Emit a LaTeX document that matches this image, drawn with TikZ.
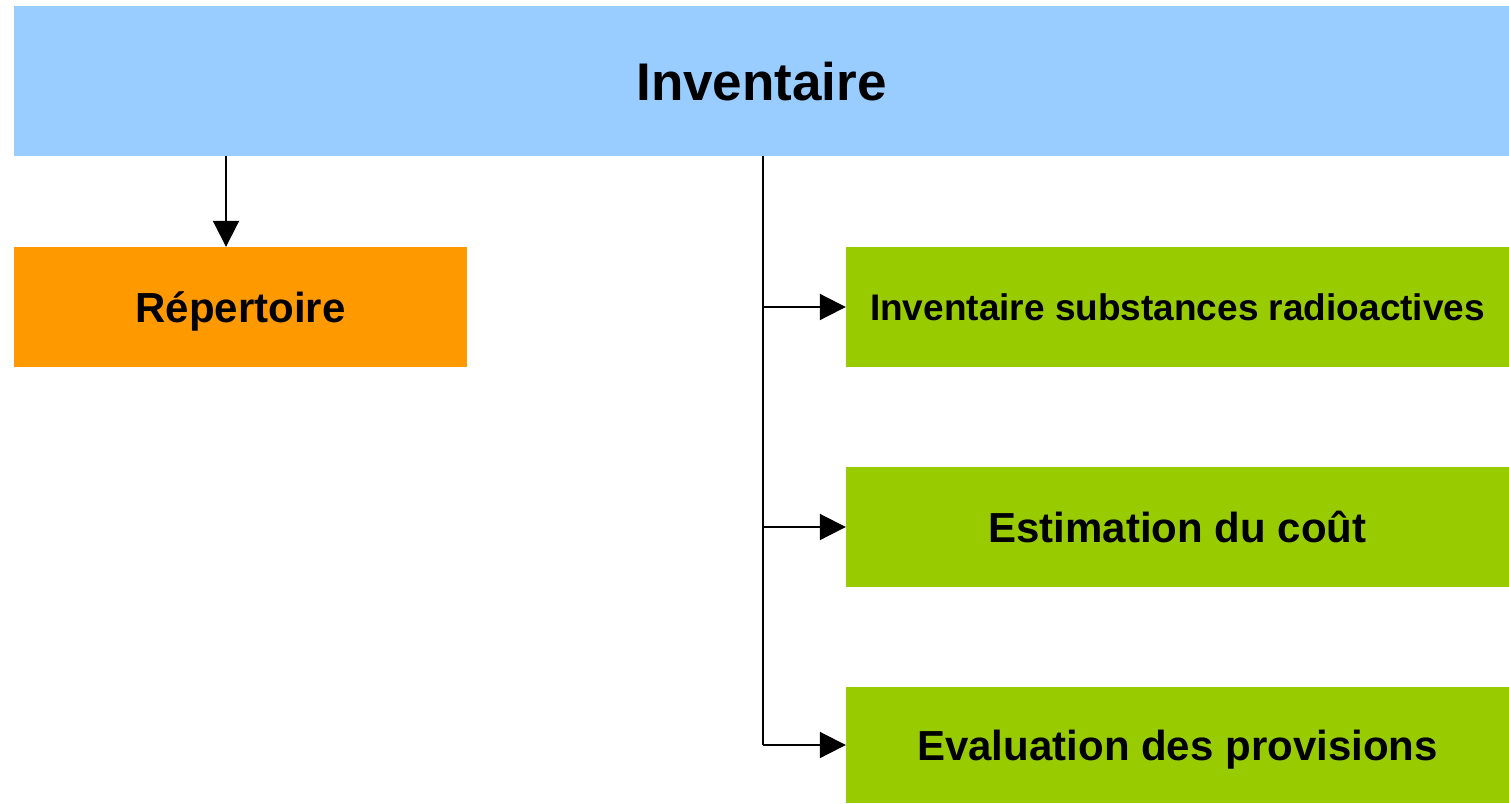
\documentclass[tikz,border=0pt]{standalone}
\usepackage{fontspec}
\setmainfont{Liberation Sans}
\usetikzlibrary{arrows.meta}
\definecolor{topblue}{HTML}{99CCFF}
\definecolor{reporange}{HTML}{FF9900}
\definecolor{leafgreen}{HTML}{99CC00}
\tikzset{
  box/.style={rectangle, inner sep=0pt, text=black, text depth=0pt},
  ftitle/.style={font=\bfseries\fontsize{53bp}{60bp}\selectfont, text height=38bp},
  fnorm/.style={font=\bfseries\fontsize{42bp}{48bp}\selectfont, text height=30bp},
  fsmall/.style={font=\bfseries\fontsize{37bp}{42bp}\selectfont, text height=26.5bp},
  conn/.style={draw=black, line width=2bp, -{Triangle[length=26bp,width=26bp]}},
  trunk/.style={draw=black, line width=2bp},
}
\begin{document}
\begin{tikzpicture}[x=1bp,y=-1bp]
\useasboundingbox (0,0) rectangle (1509,803);
\node[box, ftitle, fill=topblue, minimum width=1495bp, minimum height=150bp] (top) at (761.5,81) {Inventaire};
\node[box, fnorm, fill=reporange, minimum width=453bp, minimum height=120bp] (rep) at (240.5,307) {Répertoire};
\node[box, fsmall, fill=leafgreen, minimum width=663bp, minimum height=120bp] (inv) at (1177.5,307) {Inventaire substances radioactives};
\node[box, fnorm, fill=leafgreen, minimum width=663bp, minimum height=120bp] (est) at (1177.5,527) {Estimation du coût};
\node[box, fnorm, fill=leafgreen, minimum width=663bp, minimum height=116bp] (eva) at (1177.5,745) {Evaluation des provisions};
\coordinate (lx) at (226,0);
\coordinate (tx) at (763,0);
\draw[conn] (top.south -| lx) -- (rep.north -| lx);
\draw[trunk] (top.south -| tx) -- (tx |- eva.west);
\draw[conn] (tx |- eva.west) -- (eva.west);
\draw[conn] (tx |- inv.west) -- (inv.west);
\draw[conn] (tx |- est.west) -- (est.west);
\end{tikzpicture}
\end{document}
